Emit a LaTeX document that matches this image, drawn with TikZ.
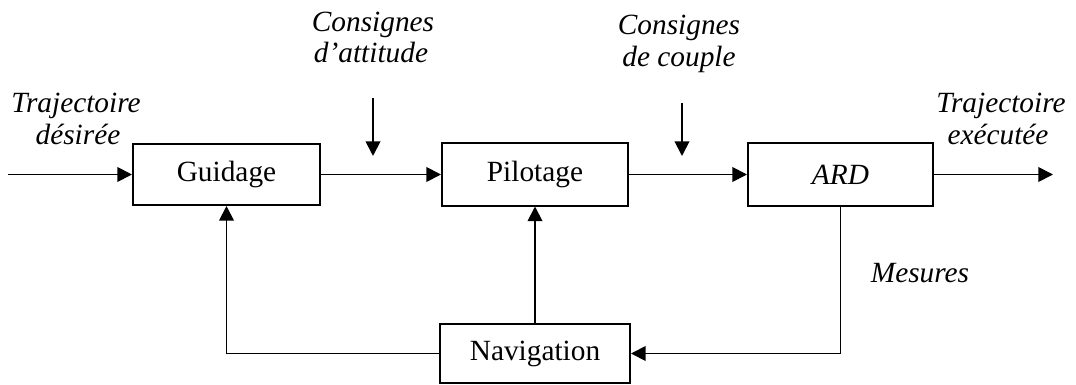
\documentclass[tikz,border=0pt]{standalone}
\usepackage{fontspec}
\setmainfont{Liberation Serif}
\usetikzlibrary{arrows.meta}
\begin{document}
\begin{tikzpicture}[x=0.75pt,y=-0.75pt,
  block/.style={draw,line width=1.5pt,inner sep=0pt,
    font=\fontsize{22}{24}\selectfont},
  lbl/.style={font=\fontsize{22}{24}\selectfont\itshape,inner sep=0pt,anchor=base},
  flow/.style={line width=1.4pt,-{Triangle[length=11pt,width=11pt]}}]
\useasboundingbox (0,0) rectangle (1076,385);

% blocks
\node[block,minimum width=140.25pt,minimum height=45.75pt] (gui) at (226.5,174.5) {Guidage};
\node[block,minimum width=139.5pt,minimum height=46.5pt] (pil) at (535,174.5) {Pilotage};
\node[block,minimum width=138.75pt,minimum height=46.5pt] (ard) at (840.5,174.5) {\itshape ARD};
\node[block,minimum width=142.5pt,minimum height=44.25pt] (nav) at (535,353.5) {Navigation};

% free ends
\coordinate (in)   at (8,174.5);
\coordinate (out)  at (1053,174.5);
\coordinate (att0) at (373,98);
\coordinate (att1) at (373,156);
\coordinate (cpl0) at (682,103);
\coordinate (cpl1) at (682,156);

% forward chain
\draw[flow] (in) -- (gui.west);
\draw[flow] (gui.east) -- (pil.west);
\draw[flow] (pil.east) -- (ard.west);
\draw[flow] (ard.east) -- (out);

% set-points
\draw[flow] (att0) -- (att1);
\draw[flow] (cpl0) -- (cpl1);

% feedback loop
\draw[flow] (ard.south) |- (nav.east);
\draw[flow] (nav.north) -- (pil.south);
\draw[flow] (nav.west) -| (gui.south);

% labels
\node[lbl] (tdA) at (76,113)  {Trajectoire};
\node[lbl] (tdB) at (78,145)  {désirée};
\node[lbl] (caA) at (373,32)  {Consignes};
\node[lbl] (caB) at (371,63)  {d’attitude};
\node[lbl] (ccA) at (679,35)  {Consignes};
\node[lbl] (ccB) at (679,67)  {de couple};
\node[lbl] (teA) at (1001,113) {Trajectoire};
\node[lbl] (teB) at (998,145) {exécutée};
\node[lbl] (mes) at (920,282) {Mesures};
\end{tikzpicture}
\end{document}
